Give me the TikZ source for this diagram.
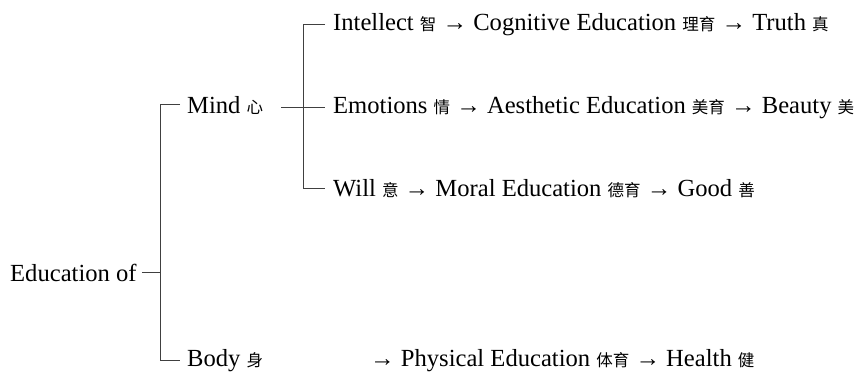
\documentclass[tikz,border=0pt]{standalone}
\usepackage{fontspec}
\setmainfont{Liberation Serif}
\newfontfamily\cjk{Noto Sans CJK SC}
% Chinese glosses are set a little smaller than the English words
\newcommand\zh[1]{{\cjk\fontsize{16.5}{16.5}\selectfont #1}}
\begin{document}
\begin{tikzpicture}[x=1pt,y=-1pt,
  every node/.style={inner sep=0pt, anchor=base west, font=\fontsize{24.6}{29}\selectfont},
  branch/.style={line width=1pt, draw=black!75}]
\useasboundingbox (0,0) rectangle (856,372);
% x positions of the two vertical bars of the tree
\coordinate (trunk) at (160,0);
\coordinate (stem) at (303,0);
% labels
\node (edu) at (10,281.5) {Education of};
\node (mind) at (187,113) {Mind \zh{心}};
\node (body) at (187,366.5) {Body \zh{身}};
\node (intel) at (333,30) {Intellect \zh{智} → Cognitive Education \zh{理育} → Truth \zh{真}};
\node (emo) at (333,113) {Emotions \zh{情} → Aesthetic Education \zh{美育} → Beauty \zh{美}};
\node (will) at (333,196) {Will \zh{意} → Moral Education \zh{德育} → Good \zh{善}};
\node (phys) at (370,366.5) {→ Physical Education \zh{体育} → Health \zh{健}};
% first level: mind and body
\draw[branch] ([xshift=5pt]edu.east) -- (edu.east -| trunk);
\draw[branch] ([xshift=-7pt]mind.west) -| (trunk |- body.west) -- ([xshift=-7pt]body.west);
% second level: the three faculties of the mind
\draw[branch] ([xshift=18pt]mind.east |- emo.west) -- ([xshift=-8pt]emo.west);
\draw[branch] ([xshift=-8pt]intel.west) -| (stem |- will.west) -- ([xshift=-8pt]will.west);
\end{tikzpicture}
\end{document}
